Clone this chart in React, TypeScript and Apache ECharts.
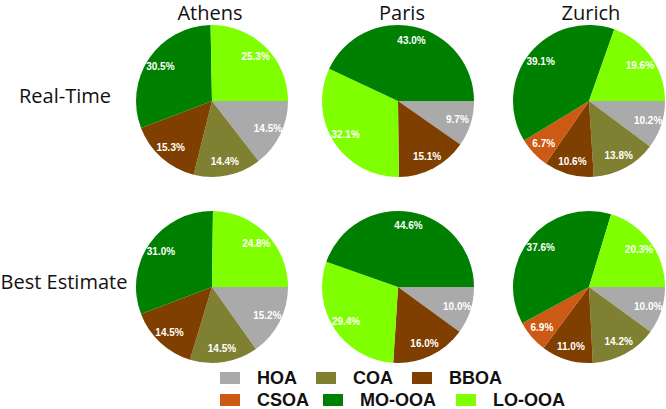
import React, { useEffect, useRef } from "react";
import * as echarts from "echarts";

// ---- data ----
const categories = ["HOA", "COA", "BBOA", "CSOA", "MO-OOA", "LO-OOA"];
const cities = ["Athens", "Paris", "Zurich"];
const rowNames = ["Real-Time", "Best Estimate"];

const athensOrder = ["HOA", "COA", "BBOA", "MO-OOA", "LO-OOA"];
const athensRealTime = [14.5, 14.4, 15.3, 30.5, 25.3];
const athensBestEstimate = [15.2, 14.5, 14.5, 31.0, 24.8];

const parisOrder = ["HOA", "BBOA", "LO-OOA", "MO-OOA"];
const parisRealTime = [9.7, 15.1, 32.1, 43.0];
const parisBestEstimate = [10.0, 16.0, 29.4, 44.6];

const zurichOrder = ["HOA", "COA", "BBOA", "CSOA", "MO-OOA", "LO-OOA"];
const zurichRealTime = [10.2, 13.8, 10.6, 6.7, 39.1, 19.6];
const zurichBestEstimate = [10.0, 14.2, 11.0, 6.9, 37.6, 20.3];

// ---- styles / layout ----
const colorMap: Record<string, string> = {
  HOA: "#AAAAAA",
  COA: "#808033",
  BBOA: "#7F3F00",
  CSOA: "#CC5A14",
  "MO-OOA": "#008000",
  "LO-OOA": "#80FF00",
};

const colX = [212, 398, 589];
const rowY = [101, 287];
const R = 76;

const pies = [
  { order: athensOrder, values: [athensRealTime, athensBestEstimate] },
  { order: parisOrder, values: [parisRealTime, parisBestEstimate] },
  { order: zurichOrder, values: [zurichRealTime, zurichBestEstimate] },
];

const legendPos = [
  { left: 220, top: 369 },
  { left: 316, top: 369 },
  { left: 412, top: 369 },
  { left: 220, top: 391 },
  { left: 323, top: 391 },
  { left: 456, top: 391 },
];

export default function App() {
  const ref = useRef<HTMLDivElement>(null);
  useEffect(() => {
    if (!ref.current) return;
    const chart = echarts.init(ref.current, undefined, { renderer: "svg" });
    const series: any[] = [];
    pies.forEach((p, ci) => {
      p.values.forEach((vals, ri) => {
        const data = p.order.map((n, i) => ({
          name: n,
          value: vals[i],
          itemStyle: { color: colorMap[n] },
        }));
        series.push({
          type: "pie",
          center: [colX[ci], rowY[ri]],
          radius: [0, R],
          startAngle: 0,
          clockwise: true,
          avoidLabelOverlap: false,
          label: { show: false },
          labelLine: { show: false },
          emphasis: { disabled: true },
          itemStyle: { borderWidth: 0 },
          data,
        });
        series.push({
          type: "pie",
          center: [colX[ci], rowY[ri]],
          radius: [R * 0.56, R],
          startAngle: 0,
          clockwise: true,
          silent: true,
          legendHoverLink: false,
          avoidLabelOverlap: false,
          emphasis: { disabled: true },
          itemStyle: { color: "rgba(0,0,0,0)", borderWidth: 0 },
          label: {
            show: true,
            position: "inside",
            color: "#ffffff",
            fontSize: 10,
            fontWeight: "bold",
            fontFamily: "Liberation Sans",
            formatter: (q: any) => Number(q.value).toFixed(1) + "%",
          },
          labelLine: { show: false },
          data: p.order.map((n, i) => ({ name: n, value: vals[i] })),
        });
      });
    });

    const legends = categories.map((c, i) => ({
      data: [c],
      left: legendPos[i].left,
      top: legendPos[i].top,
      padding: 0,
      icon: "rect",
      itemWidth: 20,
      itemHeight: 12,
      selectedMode: false,
      textStyle: {
        fontSize: 18,
        fontWeight: "bold",
        fontFamily: "Liberation Sans",
        color: "#111111",
        padding: [0, 0, 0, 12],
      },
    }));

    const graphics: any[] = [];
    cities.forEach((c, i) => {
      graphics.push({
        type: "text",
        x: [210, 402, 591][i],
        y: 12,
        style: {
          text: c,
          fontSize: 20,
          fontFamily: "Open Sans",
          fill: "#111111",
          textAlign: "center",
          textVerticalAlign: "middle",
        },
      });
    });
    rowNames.forEach((r, i) => {
      graphics.push({
        type: "text",
        x: [65, 64][i],
        y: [95, 281][i],
        style: {
          text: r,
          fontSize: 20,
          fontFamily: "Open Sans",
          fill: "#111111",
          textAlign: "center",
          textVerticalAlign: "middle",
        },
      });
    });

    chart.setOption({
      animation: false,
      backgroundColor: "#ffffff",
      legend: legends,
      graphic: graphics,
      series,
    });
    return () => chart.dispose();
  }, []);
  return (
    <div
      ref={ref}
      style={{ position: "fixed", left: 0, top: 0, width: 666, height: 409 }}
    />
  );
}
